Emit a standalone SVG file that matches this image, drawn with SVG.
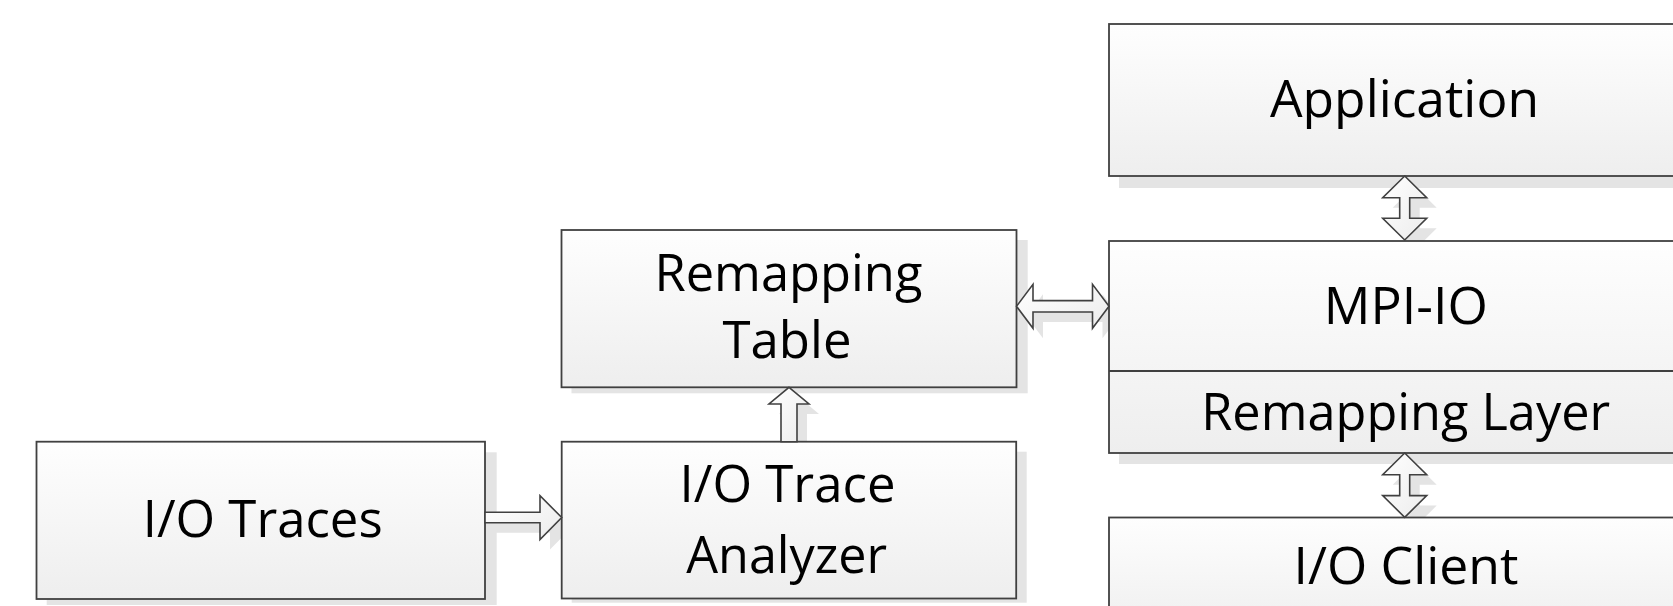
<svg xmlns="http://www.w3.org/2000/svg" width="1673" height="606" viewBox="0 0 1673 606">
  <defs>
    <linearGradient id="boxFill" x1="0" y1="0" x2="0" y2="1">
      <stop offset="0" stop-color="#fefefe"/>
      <stop offset="1" stop-color="#eeeeee"/>
    </linearGradient>
    <linearGradient id="arrowFill" x1="0" y1="0" x2="1" y2="1">
      <stop offset="0" stop-color="#ffffff"/>
      <stop offset="1" stop-color="#ececec"/>
    </linearGradient>
    <style>
      .shadow { fill: #e4e4e4; stroke: none; }
      .box { fill: url(#boxFill); stroke: #404040; stroke-width: 1.8; }
      .divider { stroke: #404040; stroke-width: 1.8; }
      .arrow { fill: url(#arrowFill); stroke: #404040; stroke-width: 1.6; stroke-linejoin: miter; }
      .label { font-family: "Open Sans", "Noto Sans", sans-serif; font-size: 52px; fill: #000000; text-anchor: middle; }
    </style>
  </defs>

  <!-- drop shadows of the boxes -->
  <g id="shadows">
    <rect class="shadow" x="1119" y="35" width="593" height="153"/>
    <rect class="shadow" x="1119" y="251" width="593" height="213"/>
    <rect class="shadow" x="1119" y="528" width="593" height="120"/>
    <rect class="shadow" x="571.5" y="240" width="456.2" height="153.3"/>
    <rect class="shadow" x="46.7" y="452.3" width="450" height="152.7"/>
    <rect class="shadow" x="571.7" y="451.7" width="455" height="151"/>
  </g>

  <!-- drop shadows of the block arrows -->
  <g id="connector-shadows" transform="translate(10,10)">
    <path class="shadow" d="M1404.7,176 L1426.7,197.7 L1409.7,197.7 L1409.7,218.3 L1426.7,218.3 L1404.7,240 L1382.7,218.3 L1399.7,218.3 L1399.7,197.7 L1382.7,197.7 Z"/>
    <path class="shadow" d="M1404.7,453 L1426.7,474.7 L1409.7,474.7 L1409.7,495.6 L1426.7,495.6 L1404.7,517.3 L1382.7,495.6 L1399.7,495.6 L1399.7,474.7 L1382.7,474.7 Z"/>
    <path class="shadow" d="M1016.5,306.3 L1033,284.3 L1033,300.6 L1092.5,300.6 L1092.5,284.3 L1109,306.3 L1092.5,328.3 L1092.5,312 L1033,312 L1033,328.3 Z"/>
    <path class="shadow" d="M485,512.2 L540,512.2 L540,495.7 L561.7,517.5 L540,539.5 L540,522.8 L485,522.8 Z"/>
    <path class="shadow" d="M789,387.3 L809,404 L797,404 L797,441.7 L781,441.7 L781,404 L769,404 Z"/>
  </g>

  <g id="application">
    <rect class="box" x="1109" y="24" width="593" height="152"/>
    <text class="label" x="1404.5" y="117" textLength="269" lengthAdjust="spacingAndGlyphs">Application</text>
  </g>

  <g id="mpi-io">
    <rect class="box" x="1109" y="241" width="593" height="212"/>
    <line class="divider" x1="1109" y1="371" x2="1702" y2="371"/>
    <text class="label" x="1405.8" y="324.3" textLength="164" lengthAdjust="spacingAndGlyphs">MPI-IO</text>
    <text id="remapping-layer" class="label" x="1405.7" y="430" textLength="409" lengthAdjust="spacingAndGlyphs">Remapping Layer</text>
  </g>

  <g id="io-client">
    <rect class="box" x="1109" y="517.5" width="593" height="120"/>
    <text class="label" x="1406" y="584" textLength="225" lengthAdjust="spacingAndGlyphs">I/O Client</text>
  </g>

  <g id="remapping-table">
    <rect class="box" x="561.5" y="230" width="455" height="157.3"/>
    <text class="label" x="788.4" y="291" textLength="268" lengthAdjust="spacingAndGlyphs">Remapping</text>
    <text class="label" x="787" y="358" textLength="129" lengthAdjust="spacingAndGlyphs">Table</text>
  </g>

  <g id="io-traces">
    <rect class="box" x="36.5" y="441.7" width="448.5" height="157.3"/>
    <text class="label" x="262.7" y="536.7" textLength="240" lengthAdjust="spacingAndGlyphs">I/O Traces</text>
  </g>

  <g id="io-trace-analyzer">
    <rect class="box" x="561.7" y="441.7" width="454.5" height="156.8"/>
    <text class="label" x="787.5" y="501.7" textLength="216" lengthAdjust="spacingAndGlyphs">I/O Trace</text>
    <text class="label" x="786.7" y="572.7" textLength="201" lengthAdjust="spacingAndGlyphs">Analyzer</text>
  </g>

  <!-- block arrows between the boxes -->
  <g id="connectors">
    <path class="arrow" d="M1404.7,176 L1426.7,197.7 L1409.7,197.7 L1409.7,218.3 L1426.7,218.3 L1404.7,240 L1382.7,218.3 L1399.7,218.3 L1399.7,197.7 L1382.7,197.7 Z"/>
    <path class="arrow" d="M1404.7,453 L1426.7,474.7 L1409.7,474.7 L1409.7,495.6 L1426.7,495.6 L1404.7,517.3 L1382.7,495.6 L1399.7,495.6 L1399.7,474.7 L1382.7,474.7 Z"/>
    <path class="arrow" d="M1016.5,306.3 L1033,284.3 L1033,300.6 L1092.5,300.6 L1092.5,284.3 L1109,306.3 L1092.5,328.3 L1092.5,312 L1033,312 L1033,328.3 Z"/>
    <path class="arrow" d="M485,512.2 L540,512.2 L540,495.7 L561.7,517.5 L540,539.5 L540,522.8 L485,522.8 Z"/>
    <path class="arrow" d="M789,387.3 L809,404 L797,404 L797,441.7 L781,441.7 L781,404 L769,404 Z"/>
  </g>
</svg>
